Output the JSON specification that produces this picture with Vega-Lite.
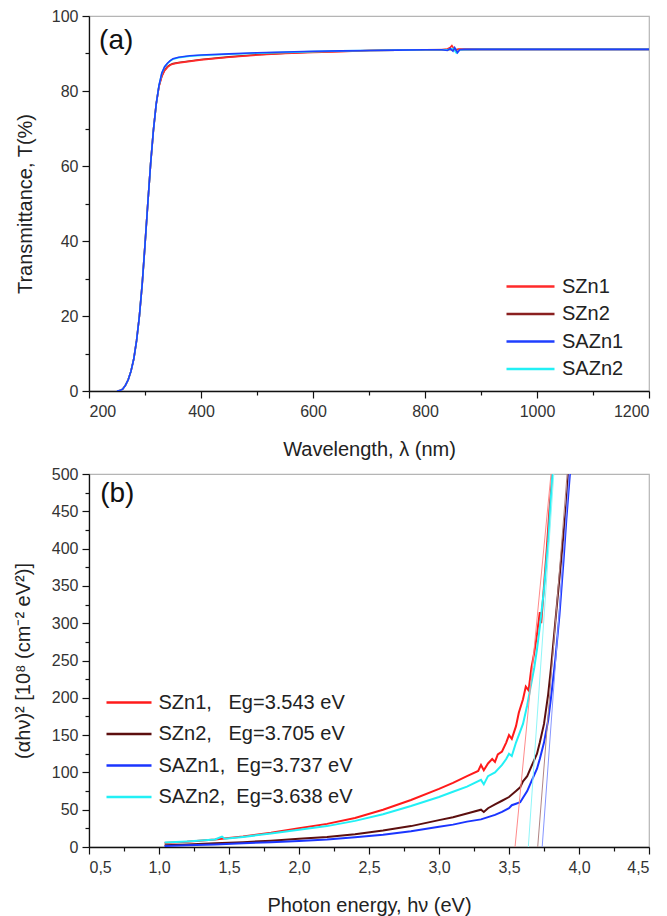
{
  "$schema": "https://vega.github.io/schema/vega-lite/v6.json",
  "padding": {"left": 12, "top": 7, "right": 10, "bottom": 5},
  "spacing": 83,
  "bounds": "flush",
  "background": "white",
  "datasets": {
    "trans": [
      {"s": "SZn2", "wl": 250, "T": 0}, {"s": "SZn2", "wl": 255, "T": 0.1}, {"s": "SZn2", "wl": 260, "T": 0.5}, {"s": "SZn2", "wl": 265, "T": 1.5}, {"s": "SZn2", "wl": 270, "T": 3}, {"s": "SZn2", "wl": 275, "T": 5.3}, {"s": "SZn2", "wl": 280, "T": 8.6}, {"s": "SZn2", "wl": 285, "T": 13.5}, {"s": "SZn2", "wl": 290, "T": 20}, {"s": "SZn2", "wl": 295, "T": 28.5}, {"s": "SZn2", "wl": 300, "T": 39}, {"s": "SZn2", "wl": 305, "T": 50}, {"s": "SZn2", "wl": 310, "T": 60.5}, {"s": "SZn2", "wl": 315, "T": 69.5}, {"s": "SZn2", "wl": 320, "T": 76.5}, {"s": "SZn2", "wl": 325, "T": 81.3}, {"s": "SZn2", "wl": 330, "T": 84}, {"s": "SZn2", "wl": 335, "T": 85.6}, {"s": "SZn2", "wl": 340, "T": 86.5}, {"s": "SZn2", "wl": 345, "T": 87}, {"s": "SZn2", "wl": 350, "T": 87.3}, {"s": "SZn2", "wl": 360, "T": 87.6}, {"s": "SZn2", "wl": 380, "T": 88}, {"s": "SZn2", "wl": 400, "T": 88.4}, {"s": "SZn2", "wl": 450, "T": 89.1}, {"s": "SZn2", "wl": 500, "T": 89.7}, {"s": "SZn2", "wl": 550, "T": 90.1}, {"s": "SZn2", "wl": 600, "T": 90.4}, {"s": "SZn2", "wl": 650, "T": 90.6}, {"s": "SZn2", "wl": 700, "T": 90.8}, {"s": "SZn2", "wl": 750, "T": 90.9}, {"s": "SZn2", "wl": 800, "T": 91}, {"s": "SZn2", "wl": 900, "T": 91.1}, {"s": "SZn2", "wl": 1000, "T": 91.1}, {"s": "SZn2", "wl": 1200, "T": 91.1},
      {"s": "SZn1", "wl": 250, "T": 0}, {"s": "SZn1", "wl": 255, "T": 0.1}, {"s": "SZn1", "wl": 260, "T": 0.5}, {"s": "SZn1", "wl": 265, "T": 1.5}, {"s": "SZn1", "wl": 270, "T": 3}, {"s": "SZn1", "wl": 275, "T": 5.3}, {"s": "SZn1", "wl": 280, "T": 8.6}, {"s": "SZn1", "wl": 285, "T": 13.5}, {"s": "SZn1", "wl": 290, "T": 20}, {"s": "SZn1", "wl": 295, "T": 28.5}, {"s": "SZn1", "wl": 300, "T": 39}, {"s": "SZn1", "wl": 305, "T": 50}, {"s": "SZn1", "wl": 310, "T": 60.5}, {"s": "SZn1", "wl": 315, "T": 69.5}, {"s": "SZn1", "wl": 320, "T": 76.5}, {"s": "SZn1", "wl": 325, "T": 81.2}, {"s": "SZn1", "wl": 330, "T": 83.8}, {"s": "SZn1", "wl": 335, "T": 85.4}, {"s": "SZn1", "wl": 340, "T": 86.3}, {"s": "SZn1", "wl": 345, "T": 86.9}, {"s": "SZn1", "wl": 350, "T": 87.2}, {"s": "SZn1", "wl": 360, "T": 87.5}, {"s": "SZn1", "wl": 380, "T": 87.9}, {"s": "SZn1", "wl": 400, "T": 88.3}, {"s": "SZn1", "wl": 450, "T": 89}, {"s": "SZn1", "wl": 500, "T": 89.6}, {"s": "SZn1", "wl": 550, "T": 90}, {"s": "SZn1", "wl": 600, "T": 90.3}, {"s": "SZn1", "wl": 650, "T": 90.5}, {"s": "SZn1", "wl": 700, "T": 90.8}, {"s": "SZn1", "wl": 750, "T": 90.9}, {"s": "SZn1", "wl": 800, "T": 91}, {"s": "SZn1", "wl": 830, "T": 91}, {"s": "SZn1", "wl": 840, "T": 91.2}, {"s": "SZn1", "wl": 845, "T": 91.6}, {"s": "SZn1", "wl": 848, "T": 92.1}, {"s": "SZn1", "wl": 851, "T": 91.4}, {"s": "SZn1", "wl": 855, "T": 90.9}, {"s": "SZn1", "wl": 860, "T": 91.2}, {"s": "SZn1", "wl": 870, "T": 91.1}, {"s": "SZn1", "wl": 900, "T": 91.1}, {"s": "SZn1", "wl": 1000, "T": 91.1}, {"s": "SZn1", "wl": 1200, "T": 91.1},
      {"s": "SAZn2", "wl": 250, "T": 0}, {"s": "SAZn2", "wl": 255, "T": 0.1}, {"s": "SAZn2", "wl": 260, "T": 0.5}, {"s": "SAZn2", "wl": 265, "T": 1.5}, {"s": "SAZn2", "wl": 270, "T": 3}, {"s": "SAZn2", "wl": 275, "T": 5.3}, {"s": "SAZn2", "wl": 280, "T": 8.6}, {"s": "SAZn2", "wl": 285, "T": 13.5}, {"s": "SAZn2", "wl": 290, "T": 20}, {"s": "SAZn2", "wl": 295, "T": 28.5}, {"s": "SAZn2", "wl": 300, "T": 39}, {"s": "SAZn2", "wl": 305, "T": 50}, {"s": "SAZn2", "wl": 310, "T": 60.5}, {"s": "SAZn2", "wl": 315, "T": 69.5}, {"s": "SAZn2", "wl": 320, "T": 76.5}, {"s": "SAZn2", "wl": 325, "T": 81.5}, {"s": "SAZn2", "wl": 330, "T": 84.7}, {"s": "SAZn2", "wl": 335, "T": 86.4}, {"s": "SAZn2", "wl": 340, "T": 87.3}, {"s": "SAZn2", "wl": 345, "T": 88}, {"s": "SAZn2", "wl": 350, "T": 88.5}, {"s": "SAZn2", "wl": 360, "T": 88.9}, {"s": "SAZn2", "wl": 380, "T": 89.3}, {"s": "SAZn2", "wl": 400, "T": 89.5}, {"s": "SAZn2", "wl": 450, "T": 89.8}, {"s": "SAZn2", "wl": 500, "T": 90.1}, {"s": "SAZn2", "wl": 550, "T": 90.3}, {"s": "SAZn2", "wl": 600, "T": 90.5}, {"s": "SAZn2", "wl": 650, "T": 90.7}, {"s": "SAZn2", "wl": 700, "T": 90.8}, {"s": "SAZn2", "wl": 750, "T": 90.9}, {"s": "SAZn2", "wl": 800, "T": 91}, {"s": "SAZn2", "wl": 840, "T": 91}, {"s": "SAZn2", "wl": 850, "T": 91.3}, {"s": "SAZn2", "wl": 856, "T": 90.1}, {"s": "SAZn2", "wl": 862, "T": 91}, {"s": "SAZn2", "wl": 900, "T": 91.1}, {"s": "SAZn2", "wl": 1000, "T": 91.1}, {"s": "SAZn2", "wl": 1200, "T": 91.1},
      {"s": "SAZn1", "wl": 250, "T": 0}, {"s": "SAZn1", "wl": 255, "T": 0.1}, {"s": "SAZn1", "wl": 260, "T": 0.5}, {"s": "SAZn1", "wl": 265, "T": 1.5}, {"s": "SAZn1", "wl": 270, "T": 3}, {"s": "SAZn1", "wl": 275, "T": 5.3}, {"s": "SAZn1", "wl": 280, "T": 8.6}, {"s": "SAZn1", "wl": 285, "T": 13.5}, {"s": "SAZn1", "wl": 290, "T": 20}, {"s": "SAZn1", "wl": 295, "T": 28.5}, {"s": "SAZn1", "wl": 300, "T": 39}, {"s": "SAZn1", "wl": 305, "T": 50}, {"s": "SAZn1", "wl": 310, "T": 60.5}, {"s": "SAZn1", "wl": 315, "T": 69.5}, {"s": "SAZn1", "wl": 320, "T": 76.5}, {"s": "SAZn1", "wl": 325, "T": 81.5}, {"s": "SAZn1", "wl": 330, "T": 84.8}, {"s": "SAZn1", "wl": 335, "T": 86.5}, {"s": "SAZn1", "wl": 340, "T": 87.4}, {"s": "SAZn1", "wl": 345, "T": 88.1}, {"s": "SAZn1", "wl": 350, "T": 88.6}, {"s": "SAZn1", "wl": 360, "T": 89}, {"s": "SAZn1", "wl": 380, "T": 89.4}, {"s": "SAZn1", "wl": 400, "T": 89.6}, {"s": "SAZn1", "wl": 450, "T": 89.9}, {"s": "SAZn1", "wl": 500, "T": 90.2}, {"s": "SAZn1", "wl": 550, "T": 90.4}, {"s": "SAZn1", "wl": 600, "T": 90.6}, {"s": "SAZn1", "wl": 650, "T": 90.7}, {"s": "SAZn1", "wl": 700, "T": 90.8}, {"s": "SAZn1", "wl": 750, "T": 90.9}, {"s": "SAZn1", "wl": 800, "T": 91}, {"s": "SAZn1", "wl": 830, "T": 91}, {"s": "SAZn1", "wl": 840, "T": 90.8}, {"s": "SAZn1", "wl": 845, "T": 91.3}, {"s": "SAZn1", "wl": 850, "T": 90.6}, {"s": "SAZn1", "wl": 853, "T": 91.6}, {"s": "SAZn1", "wl": 858, "T": 90.2}, {"s": "SAZn1", "wl": 862, "T": 91}, {"s": "SAZn1", "wl": 870, "T": 91.1}, {"s": "SAZn1", "wl": 900, "T": 91.1}, {"s": "SAZn1", "wl": 1000, "T": 91.1}, {"s": "SAZn1", "wl": 1200, "T": 91.1}
    ],
    "tauc": [
      {"s": "SZn1", "E": 1.04, "v": 5.5}, {"s": "SZn1", "E": 1.2, "v": 7}, {"s": "SZn1", "E": 1.4, "v": 10}, {"s": "SZn1", "E": 1.6, "v": 14}, {"s": "SZn1", "E": 1.8, "v": 19}, {"s": "SZn1", "E": 2.0, "v": 25}, {"s": "SZn1", "E": 2.2, "v": 31}, {"s": "SZn1", "E": 2.4, "v": 39}, {"s": "SZn1", "E": 2.6, "v": 50}, {"s": "SZn1", "E": 2.8, "v": 63}, {"s": "SZn1", "E": 3.0, "v": 78}, {"s": "SZn1", "E": 3.1, "v": 86}, {"s": "SZn1", "E": 3.2, "v": 95}, {"s": "SZn1", "E": 3.28, "v": 102}, {"s": "SZn1", "E": 3.3, "v": 110}, {"s": "SZn1", "E": 3.32, "v": 103}, {"s": "SZn1", "E": 3.35, "v": 112}, {"s": "SZn1", "E": 3.38, "v": 118}, {"s": "SZn1", "E": 3.4, "v": 114}, {"s": "SZn1", "E": 3.42, "v": 124}, {"s": "SZn1", "E": 3.45, "v": 128}, {"s": "SZn1", "E": 3.48, "v": 140}, {"s": "SZn1", "E": 3.5, "v": 150}, {"s": "SZn1", "E": 3.52, "v": 145}, {"s": "SZn1", "E": 3.55, "v": 162}, {"s": "SZn1", "E": 3.57, "v": 180}, {"s": "SZn1", "E": 3.6, "v": 198}, {"s": "SZn1", "E": 3.62, "v": 215}, {"s": "SZn1", "E": 3.64, "v": 210}, {"s": "SZn1", "E": 3.66, "v": 240}, {"s": "SZn1", "E": 3.68, "v": 260}, {"s": "SZn1", "E": 3.7, "v": 285}, {"s": "SZn1", "E": 3.72, "v": 315}, {"s": "SZn1", "E": 3.73, "v": 300}, {"s": "SZn1", "E": 3.75, "v": 350}, {"s": "SZn1", "E": 3.77, "v": 400}, {"s": "SZn1", "E": 3.79, "v": 455}, {"s": "SZn1", "E": 3.81, "v": 500},
      {"s": "SAZn2", "E": 1.04, "v": 6}, {"s": "SAZn2", "E": 1.2, "v": 7.5}, {"s": "SAZn2", "E": 1.4, "v": 10}, {"s": "SAZn2", "E": 1.45, "v": 14}, {"s": "SAZn2", "E": 1.47, "v": 11}, {"s": "SAZn2", "E": 1.6, "v": 13.5}, {"s": "SAZn2", "E": 1.8, "v": 18}, {"s": "SAZn2", "E": 2.0, "v": 23}, {"s": "SAZn2", "E": 2.2, "v": 28}, {"s": "SAZn2", "E": 2.4, "v": 35}, {"s": "SAZn2", "E": 2.6, "v": 44}, {"s": "SAZn2", "E": 2.8, "v": 55}, {"s": "SAZn2", "E": 3.0, "v": 67}, {"s": "SAZn2", "E": 3.1, "v": 74}, {"s": "SAZn2", "E": 3.2, "v": 81}, {"s": "SAZn2", "E": 3.3, "v": 90}, {"s": "SAZn2", "E": 3.32, "v": 84}, {"s": "SAZn2", "E": 3.35, "v": 95}, {"s": "SAZn2", "E": 3.4, "v": 100}, {"s": "SAZn2", "E": 3.45, "v": 110}, {"s": "SAZn2", "E": 3.48, "v": 118}, {"s": "SAZn2", "E": 3.5, "v": 125}, {"s": "SAZn2", "E": 3.52, "v": 122}, {"s": "SAZn2", "E": 3.55, "v": 140}, {"s": "SAZn2", "E": 3.58, "v": 155}, {"s": "SAZn2", "E": 3.6, "v": 165}, {"s": "SAZn2", "E": 3.63, "v": 190}, {"s": "SAZn2", "E": 3.66, "v": 220}, {"s": "SAZn2", "E": 3.68, "v": 240}, {"s": "SAZn2", "E": 3.7, "v": 265}, {"s": "SAZn2", "E": 3.72, "v": 295}, {"s": "SAZn2", "E": 3.75, "v": 345}, {"s": "SAZn2", "E": 3.78, "v": 410}, {"s": "SAZn2", "E": 3.81, "v": 500},
      {"s": "SZn2", "E": 1.04, "v": 2.5}, {"s": "SZn2", "E": 1.2, "v": 3.5}, {"s": "SZn2", "E": 1.4, "v": 5}, {"s": "SZn2", "E": 1.6, "v": 6.5}, {"s": "SZn2", "E": 1.8, "v": 8.5}, {"s": "SZn2", "E": 2.0, "v": 11}, {"s": "SZn2", "E": 2.2, "v": 13.5}, {"s": "SZn2", "E": 2.4, "v": 17}, {"s": "SZn2", "E": 2.6, "v": 22}, {"s": "SZn2", "E": 2.8, "v": 28}, {"s": "SZn2", "E": 3.0, "v": 36}, {"s": "SZn2", "E": 3.1, "v": 40}, {"s": "SZn2", "E": 3.2, "v": 45}, {"s": "SZn2", "E": 3.3, "v": 50}, {"s": "SZn2", "E": 3.32, "v": 47}, {"s": "SZn2", "E": 3.35, "v": 52}, {"s": "SZn2", "E": 3.4, "v": 57}, {"s": "SZn2", "E": 3.45, "v": 62}, {"s": "SZn2", "E": 3.5, "v": 67}, {"s": "SZn2", "E": 3.55, "v": 75}, {"s": "SZn2", "E": 3.58, "v": 80}, {"s": "SZn2", "E": 3.6, "v": 88}, {"s": "SZn2", "E": 3.63, "v": 95}, {"s": "SZn2", "E": 3.66, "v": 108}, {"s": "SZn2", "E": 3.7, "v": 125}, {"s": "SZn2", "E": 3.72, "v": 140}, {"s": "SZn2", "E": 3.75, "v": 165}, {"s": "SZn2", "E": 3.78, "v": 205}, {"s": "SZn2", "E": 3.8, "v": 240}, {"s": "SZn2", "E": 3.82, "v": 280}, {"s": "SZn2", "E": 3.85, "v": 340}, {"s": "SZn2", "E": 3.88, "v": 400}, {"s": "SZn2", "E": 3.91, "v": 460}, {"s": "SZn2", "E": 3.925, "v": 500},
      {"s": "SAZn1", "E": 1.04, "v": 1.5}, {"s": "SAZn1", "E": 1.2, "v": 2.5}, {"s": "SAZn1", "E": 1.4, "v": 3.5}, {"s": "SAZn1", "E": 1.6, "v": 5}, {"s": "SAZn1", "E": 1.8, "v": 6.5}, {"s": "SAZn1", "E": 2.0, "v": 8}, {"s": "SAZn1", "E": 2.2, "v": 10}, {"s": "SAZn1", "E": 2.4, "v": 13}, {"s": "SAZn1", "E": 2.6, "v": 16.5}, {"s": "SAZn1", "E": 2.8, "v": 21}, {"s": "SAZn1", "E": 3.0, "v": 27}, {"s": "SAZn1", "E": 3.1, "v": 30}, {"s": "SAZn1", "E": 3.2, "v": 34}, {"s": "SAZn1", "E": 3.3, "v": 37}, {"s": "SAZn1", "E": 3.35, "v": 40}, {"s": "SAZn1", "E": 3.4, "v": 43}, {"s": "SAZn1", "E": 3.45, "v": 47}, {"s": "SAZn1", "E": 3.5, "v": 52}, {"s": "SAZn1", "E": 3.52, "v": 56}, {"s": "SAZn1", "E": 3.55, "v": 58}, {"s": "SAZn1", "E": 3.58, "v": 60}, {"s": "SAZn1", "E": 3.6, "v": 66}, {"s": "SAZn1", "E": 3.63, "v": 75}, {"s": "SAZn1", "E": 3.66, "v": 88}, {"s": "SAZn1", "E": 3.7, "v": 105}, {"s": "SAZn1", "E": 3.72, "v": 118}, {"s": "SAZn1", "E": 3.75, "v": 140}, {"s": "SAZn1", "E": 3.78, "v": 170}, {"s": "SAZn1", "E": 3.8, "v": 200}, {"s": "SAZn1", "E": 3.83, "v": 250}, {"s": "SAZn1", "E": 3.86, "v": 310}, {"s": "SAZn1", "E": 3.89, "v": 385}, {"s": "SAZn1", "E": 3.91, "v": 440}, {"s": "SAZn1", "E": 3.935, "v": 500}
    ],
    "tangent": [
      {"s": "SZn1", "E": 3.543, "v": 0}, {"s": "SZn1", "E": 3.80, "v": 500},
      {"s": "SAZn2", "E": 3.638, "v": 0}, {"s": "SAZn2", "E": 3.82, "v": 500},
      {"s": "SZn2", "E": 3.705, "v": 0}, {"s": "SZn2", "E": 3.915, "v": 500},
      {"s": "SAZn1", "E": 3.737, "v": 0}, {"s": "SAZn1", "E": 3.93, "v": 500}
    ],
    "panelA": [{"label": "(a)"}],
    "panelB": [{"label": "(b)"}]
  },
  "vconcat": [
    {
      "width": 560,
      "height": 375,
      "layer": [
        {
          "data": {"name": "trans"},
          "mark": {"type": "line", "strokeWidth": 1.6, "clip": true},
          "encoding": {
            "x": {
              "field": "wl", "type": "quantitative",
              "scale": {"domain": [200, 1200], "nice": false},
              "title": "Wavelength, λ (nm)",
              "axis": {
                "values": [200, 300, 400, 500, 600, 700, 800, 900, 1000, 1100, 1200],
                "labelExpr": "datum.value % 200 === 0 ? datum.label : ''",
                "format": "d",
                "tickSize": {"condition": {"test": "datum.value % 200 !== 0", "value": 4}, "value": 7},
                "labelPadding": 5, "titlePadding": 20
              }
            },
            "y": {
              "field": "T", "type": "quantitative",
              "scale": {"domain": [0, 100], "nice": false},
              "title": "Transmittance, T(%)",
              "axis": {
                "values": [0, 10, 20, 30, 40, 50, 60, 70, 80, 90, 100],
                "labelExpr": "datum.value % 20 === 0 ? datum.label : ''",
                "tickSize": {"condition": {"test": "datum.value % 20 !== 0", "value": 4}, "value": 7},
                "labelPadding": 4, "titlePadding": 16
              }
            },
            "color": {
              "field": "s", "type": "nominal",
              "scale": {"domain": ["SZn1", "SZn2", "SAZn1", "SAZn2"], "range": ["#ff2a2a", "#8a2020", "#1f3fff", "#22f0f5"]},
              "legend": {
                "title": null, "orient": "none", "legendX": 430, "legendY": 259,
                "symbolType": "M-2.4,0H2.4", "symbolSize": 400, "symbolStrokeWidth": 2.5,
                "labelFontSize": 20, "labelFont": "Liberation Sans", "labelColor": "#222",
                "labelOffset": 20, "rowPadding": 5.5, "labelLimit": 400
              }
            }
          }
        },
        {
          "data": {"name": "panelA"},
          "mark": {"type": "text", "align": "left", "baseline": "middle", "fontSize": 28, "font": "Liberation Sans", "fill": "#111"},
          "encoding": {
            "x": {
              "datum": 218, "type": "quantitative",
              "scale": {"domain": [200, 1200], "nice": false},
              "title": "Wavelength, λ (nm)",
              "axis": {
                "values": [200, 300, 400, 500, 600, 700, 800, 900, 1000, 1100, 1200],
                "labelExpr": "datum.value % 200 === 0 ? datum.label : ''",
                "format": "d",
                "tickSize": {"condition": {"test": "datum.value % 200 !== 0", "value": 4}, "value": 7},
                "labelPadding": 5, "titlePadding": 20
              }
            },
            "y": {
              "datum": 93.3, "type": "quantitative",
              "scale": {"domain": [0, 100], "nice": false},
              "title": "Transmittance, T(%)",
              "axis": {
                "values": [0, 10, 20, 30, 40, 50, 60, 70, 80, 90, 100],
                "labelExpr": "datum.value % 20 === 0 ? datum.label : ''",
                "tickSize": {"condition": {"test": "datum.value % 20 !== 0", "value": 4}, "value": 7},
                "labelPadding": 4, "titlePadding": 16
              }
            },
            "text": {"field": "label", "type": "nominal"}
          }
        }
      ]
    },
    {
      "width": 560,
      "height": 373,
      "layer": [
        {
          "data": {"name": "tauc"},
          "mark": {"type": "line", "strokeWidth": 2, "clip": true},
          "encoding": {
            "x": {
              "field": "E", "type": "quantitative",
              "scale": {"domain": [0.5, 4.5], "nice": false},
              "title": "Photon energy, hν (eV)",
              "axis": {
                "values": [0.5, 0.75, 1, 1.25, 1.5, 1.75, 2, 2.25, 2.5, 2.75, 3, 3.25, 3.5, 3.75, 4, 4.25, 4.5],
                "labelExpr": "(datum.value * 2) % 1 === 0 ? replace(format(datum.value, '.1f'), '.', ',') : ''",
                "tickSize": {"condition": {"test": "(datum.value * 2) % 1 !== 0", "value": 4}, "value": 7},
                "labelPadding": 5, "titlePadding": 20
              }
            },
            "y": {
              "field": "v", "type": "quantitative",
              "scale": {"domain": [0, 500], "nice": false},
              "title": "(αhν)² [10⁸ (cm⁻² eV²)]",
              "axis": {
                "values": [0, 25, 50, 75, 100, 125, 150, 175, 200, 225, 250, 275, 300, 325, 350, 375, 400, 425, 450, 475, 500],
                "labelExpr": "datum.value % 50 === 0 ? datum.label : ''",
                "tickSize": {"condition": {"test": "datum.value % 50 !== 0", "value": 4}, "value": 7},
                "labelPadding": 4, "titlePadding": 18
              }
            },
            "color": {
              "field": "s", "type": "nominal",
              "scale": {"domain": ["SZn1", "SZn2", "SAZn1", "SAZn2"], "range": ["#ff1a1a", "#5c0f0f", "#1a35ff", "#22f0f5"]},
              "legend": {
                "title": null, "orient": "none", "legendX": 28.5, "legendY": 217,
                "symbolType": "M-2.25,0H2.25", "symbolSize": 400, "symbolStrokeWidth": 2.5,
                "labelFontSize": 20, "labelFont": "Liberation Sans", "labelColor": "#222",
                "labelOffset": 18, "rowPadding": 9.5, "labelLimit": 400,
                "labelExpr": "datum.label === 'SZn1' ? 'SZn1,\u00a0\u00a0\u00a0Eg=3.543 eV' : datum.label === 'SZn2' ? 'SZn2,\u00a0\u00a0\u00a0Eg=3.705 eV' : datum.label === 'SAZn1' ? 'SAZn1,\u00a0\u00a0Eg=3.737 eV' : 'SAZn2,\u00a0\u00a0Eg=3.638 eV'"
              }
            }
          }
        },
        {
          "data": {"name": "tangent"},
          "mark": {"type": "line", "strokeWidth": 1, "clip": true},
          "encoding": {
            "x": {
              "field": "E", "type": "quantitative",
              "scale": {"domain": [0.5, 4.5], "nice": false},
              "title": "Photon energy, hν (eV)",
              "axis": {
                "values": [0.5, 0.75, 1, 1.25, 1.5, 1.75, 2, 2.25, 2.5, 2.75, 3, 3.25, 3.5, 3.75, 4, 4.25, 4.5],
                "labelExpr": "(datum.value * 2) % 1 === 0 ? replace(format(datum.value, '.1f'), '.', ',') : ''",
                "tickSize": {"condition": {"test": "(datum.value * 2) % 1 !== 0", "value": 4}, "value": 7},
                "labelPadding": 5, "titlePadding": 20
              }
            },
            "y": {
              "field": "v", "type": "quantitative",
              "scale": {"domain": [0, 500], "nice": false},
              "title": "(αhν)² [10⁸ (cm⁻² eV²)]",
              "axis": {
                "values": [0, 25, 50, 75, 100, 125, 150, 175, 200, 225, 250, 275, 300, 325, 350, 375, 400, 425, 450, 475, 500],
                "labelExpr": "datum.value % 50 === 0 ? datum.label : ''",
                "tickSize": {"condition": {"test": "datum.value % 50 !== 0", "value": 4}, "value": 7},
                "labelPadding": 4, "titlePadding": 18
              }
            },
            "color": {
              "field": "s", "type": "nominal",
              "scale": {"domain": ["SZn1", "SZn2", "SAZn1", "SAZn2"], "range": ["#ff8a8a", "#b08585", "#8595ff", "#8ff6f8"]},
              "legend": null
            }
          }
        },
        {
          "data": {"name": "panelB"},
          "mark": {"type": "text", "align": "left", "baseline": "middle", "fontSize": 28, "font": "Liberation Sans", "fill": "#111"},
          "encoding": {
            "x": {
              "datum": 0.58, "type": "quantitative",
              "scale": {"domain": [0.5, 4.5], "nice": false},
              "title": "Photon energy, hν (eV)",
              "axis": {
                "values": [0.5, 0.75, 1, 1.25, 1.5, 1.75, 2, 2.25, 2.5, 2.75, 3, 3.25, 3.5, 3.75, 4, 4.25, 4.5],
                "labelExpr": "(datum.value * 2) % 1 === 0 ? replace(format(datum.value, '.1f'), '.', ',') : ''",
                "tickSize": {"condition": {"test": "(datum.value * 2) % 1 !== 0", "value": 4}, "value": 7},
                "labelPadding": 5, "titlePadding": 20
              }
            },
            "y": {
              "datum": 473, "type": "quantitative",
              "scale": {"domain": [0, 500], "nice": false},
              "title": "(αhν)² [10⁸ (cm⁻² eV²)]",
              "axis": {
                "values": [0, 25, 50, 75, 100, 125, 150, 175, 200, 225, 250, 275, 300, 325, 350, 375, 400, 425, 450, 475, 500],
                "labelExpr": "datum.value % 50 === 0 ? datum.label : ''",
                "tickSize": {"condition": {"test": "datum.value % 50 !== 0", "value": 4}, "value": 7},
                "labelPadding": 4, "titlePadding": 18
              }
            },
            "text": {"field": "label", "type": "nominal"}
          }
        }
      ],
      "resolve": {"scale": {"color": "independent"}}
    }
  ],
  "resolve": {"scale": {"color": "independent"}, "legend": {"color": "independent"}},
  "config": {
    "font": "Liberation Sans",
    "view": {"stroke": "#b5b5b5", "strokeWidth": 1.2},
    "axis": {
      "grid": false,
      "domainColor": "#111", "domainWidth": 1.3,
      "tickColor": "#111", "tickWidth": 1.2,
      "labelFont": "Liberation Sans", "labelFontSize": 16, "labelColor": "#333",
      "titleFont": "Liberation Sans", "titleFontSize": 20, "titleFontWeight": "normal", "titleColor": "#222"
    },
    "legend": {"padding": 0}
  }
}
